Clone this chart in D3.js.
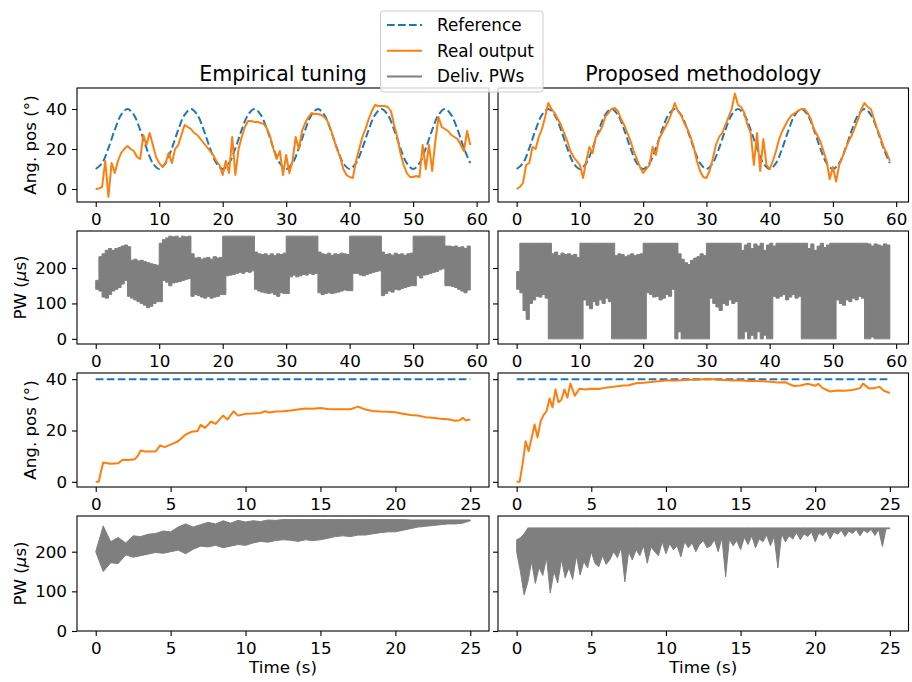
<!DOCTYPE html>
<html>
<head>
<meta charset="utf-8">
<script src="https://cdn.jsdelivr.net/npm/d3@7"></script>
<style>
  body { margin: 0; background: #fff; }
  svg { font-family: "DejaVu Sans", sans-serif; }
</style>
</head>
<body>
<svg id="chart" width="912" height="682"></svg>
<script>
// ---- values ----

// sine tracking test, 0..59 s
const sineRefStep = 1;
const sineRef = [
  10, 12.9, 20.4, 29.6, 37.1, 40, 37.1, 29.6, 20.4, 12.9,
  10, 12.9, 20.4, 29.6, 37.1, 40, 37.1, 29.6, 20.4, 12.9,
  10, 12.9, 20.4, 29.6, 37.1, 40, 37.1, 29.6, 20.4, 12.9,
  10, 12.9, 20.4, 29.6, 37.1, 40, 37.1, 29.6, 20.4, 12.9,
  10, 12.9, 20.4, 29.6, 37.1, 40, 37.1, 29.6, 20.4, 12.9,
  10, 12.9, 20.4, 29.6, 37.1, 40, 37.1, 29.6, 20.4, 12.9
];

const trackStep = 0.5;
const empTrack = [
  0, 0.3, 1, 14, -3.9, 13, 8, 14, 18, 20,
  21.5, 20, 19, 16, 15, 27, 22, 28, 22, 16,
  13, 11, 13, 18, 13, 20, 22, 27, 32, 31,
  30, 28, 27, 25, 23, 21, 19, 17, 14, 12,
  7, 14, 8, 26, 7, 20, 26, 31, 34, 34,
  33.5, 33.5, 33, 32.5, 30, 26, 20, 15, 19, 7,
  17, 8, 14, 26, 20, 29, 33, 36, 38, 37.5,
  37.5, 37, 36, 34, 30, 25, 20, 16, 10, 7,
  6, 5.5, 14, 20, 26, 30, 35, 39, 42, 41.5,
  41.5, 41.5, 41, 39, 32, 26, 18, 12, 8, 6,
  6, 6.5, 6, 22, 10, 22, 9, 24, 36, 31,
  30, 29, 27, 26, 25, 22, 19, 29, 22
];
const propTrack = [
  0, 1, 3, 12, 13, 21, 20, 26, 30, 36,
  43, 40, 38, 35, 32, 28, 24, 19, 16, 14,
  12, 5.5, 14, 21, 18, 26, 28, 31, 36, 38,
  40, 40.5, 39, 35, 32, 28, 24, 19, 15, 11,
  8, 10, 12, 21, 17, 25, 28, 31, 34, 38,
  43, 39, 37, 33, 30, 26, 21, 14, 9, 6,
  5.5, 9, 15, 22, 26, 28, 32, 36, 40, 47.7,
  42, 41, 38, 32, 28, 12, 28, 9, 25, 12,
  10, 14, 19, 25, 29, 32, 35, 37, 38, 39,
  40, 40, 38, 35, 30, 27, 24, 19, 14, 5,
  11, 3.7, 12, 16, 20, 24, 27, 31, 35, 40,
  43, 41, 40, 35, 30, 26, 21, 18, 14
];

// delivered pulse widths: upper / lower envelope of the dense trace
const empTrackPwHi = [
  165, 232, 240, 250, 255, 250, 255, 258, 262, 265,
  260, 222, 225, 220, 222, 218, 215, 212, 210, 208,
  270, 280, 285, 290, 288, 290, 285, 290, 288, 290,
  240, 228, 230, 225, 228, 230, 225, 232, 228, 230,
  290, 290, 290, 290, 290, 290, 290, 290, 290, 290,
  245, 240, 238, 240, 236, 240, 235, 240, 238, 242,
  290, 290, 290, 290, 290, 290, 290, 290, 290, 290,
  245, 240, 238, 242, 236, 240, 238, 242, 240, 238,
  290, 290, 290, 290, 290, 290, 290, 290, 290, 290,
  245, 238, 240, 236, 242, 238, 240, 236, 240, 242,
  290, 290, 290, 290, 290, 290, 290, 290, 290, 290,
  262, 262, 260, 262, 258, 260, 255, 262, 240
];
const empTrackPwLo = [
  140, 135, 118, 115, 125, 135, 140, 145, 155, 165,
  120, 115, 110, 105, 100, 95, 88, 92, 100, 105,
  105, 165, 160, 150, 158, 160, 162, 165, 168, 170,
  120, 125, 122, 118, 115, 120, 115, 118, 120, 125,
  125, 178, 180, 182, 185, 188, 185, 190, 188, 192,
  140, 135, 132, 130, 128, 130, 125, 120, 130, 128,
  128, 175, 180, 175, 178, 182, 180, 185, 182, 185,
  130, 125, 128, 130, 128, 130, 132, 135, 138, 136,
  136, 185, 185, 180, 178, 182, 185, 188, 190, 192,
  122, 128, 135, 132, 140, 138, 142, 145, 148, 150,
  150, 178, 172, 180, 182, 185, 188, 190, 195, 198,
  150, 150, 148, 145, 140, 135, 130, 138, 160
];
const propTrackPwHi = [
  190, 270, 270, 270, 270, 270, 270, 270, 270, 270,
  270, 240, 245, 235, 242, 238, 240, 236, 238, 230,
  270, 270, 270, 270, 270, 270, 270, 270, 270, 270,
  270, 235, 240, 238, 232, 236, 240, 235, 238, 240,
  270, 270, 270, 270, 270, 270, 270, 270, 270, 270,
  270, 240, 225, 215, 210, 222, 228, 232, 240, 235,
  270, 270, 270, 270, 270, 270, 270, 270, 270, 270,
  270, 250, 265, 270, 255, 268, 262, 270, 250, 265,
  270, 262, 270, 270, 270, 270, 270, 270, 270, 270,
  270, 270, 255, 268, 250, 262, 270, 258, 265, 270,
  270, 270, 270, 270, 270, 270, 270, 270, 270, 270,
  270, 268, 262, 268, 265, 262, 268, 265, 225
];
const propTrackPwLo = [
  140, 130, 80, 55, 100, 110, 120, 118, 125, 115,
  0, 0, 0, 0, 0, 0, 0, 0, 0, 0,
  0, 110, 95, 85, 105, 95, 110, 100, 115, 105,
  0, 0, 0, 0, 0, 0, 0, 0, 0, 0,
  0, 130, 125, 118, 120, 110, 115, 125, 120, 140,
  0, 20, 0, 0, 0, 0, 0, 0, 0, 0,
  0, 115, 100, 90, 80, 100, 95, 110, 100, 105,
  0, 0, 20, 0, 10, 0, 20, 0, 10, 0,
  0, 120, 115, 120, 125, 110, 118, 125, 115, 120,
  0, 0, 0, 0, 0, 0, 0, 0, 0, 0,
  0, 110, 100, 95, 110, 105, 115, 110, 120, 115,
  0, 0, 5, 0, 0, 0, 0, 0, 5
];

// step test, 0..25 s
const stepRefTime = [0, 25];
const stepRef = [40, 40];

const empStepTime = [
  0, 0.2, 0.35, 0.5, 0.7, 1, 1.5, 1.8, 2.2, 2.6, 2.8, 3, 3.3, 4, 4.3, 4.6, 5,
  5.5, 6, 6.4, 6.8, 7, 7.3, 7.7, 8, 8.5, 8.8, 9.2, 9.5, 10, 10.5, 11, 11.3,
  11.6, 12, 12.5, 13, 13.5, 14, 14.5, 15, 15.5, 16, 16.5, 17, 17.5, 18, 18.5,
  19, 19.5, 20, 20.5, 21, 21.5, 22, 22.5, 23, 23.5, 24, 24.3, 24.5, 24.7, 25
];
const empStepPos = [
  0, 0, 4, 7.5, 7.3, 7, 7.2, 8.6, 8.5, 8.8, 10, 12.2, 11.8, 11.8, 14.2, 13.5, 14.5,
  15.8, 18.4, 19.5, 19.8, 22.2, 21, 23.5, 22.6, 25.8, 24.3, 27.5, 25.8, 26.5, 26.6, 26.8, 27.5,
  27, 27.4, 27.5, 27.8, 28.2, 28.6, 28.5, 28.8, 28.4, 28.3, 28.3, 28.3, 29.3, 28.2, 27.6,
  27.4, 27.3, 27.1, 26.5, 26, 25.8, 25.2, 25, 24.6, 24.4, 23.8, 24, 24.9, 24, 24.3
];
const propStepTime = [
  0, 0.2, 0.4, 0.6, 0.8, 1, 1.2, 1.4, 1.6, 1.8, 2, 2.2, 2.4, 2.6, 2.8, 3, 3.2,
  3.4, 3.6, 3.9, 4.2, 4.6, 5, 5.5, 6, 6.5, 7, 7.5, 8, 8.5, 9, 9.5, 10, 10.5,
  11, 11.5, 12, 12.5, 13, 13.5, 14, 14.5, 15, 15.5, 16, 16.5, 17, 17.5, 18,
  18.3, 18.6, 19, 19.5, 20, 20.2, 20.5, 21, 21.5, 22, 22.5, 23, 23.2, 23.6,
  24, 24.3, 24.6, 25
];
const propStepPos = [
  0, 0, 7, 15.8, 12, 17, 22.3, 17.3, 23.5, 26, 27.5, 32.5, 29, 36, 31, 32, 36,
  32.8, 38.3, 33.5, 36.3, 36, 36.3, 36.2, 36.7, 37, 37.4, 37.6, 38.4, 38.6, 38.9, 39.2, 39.5, 39.5,
  39.6, 39.8, 39.8, 40, 40.1, 39.8, 39.7, 39.5, 39.6, 39.3, 39.3, 39.2, 39, 38.7, 38.8,
  38, 37.3, 37.5, 38.2, 37.4, 38.2, 36.5, 35.2, 35.6, 35.5, 35.8, 36.5, 38.3, 36.4,
  36.6, 37, 35.5, 34.6
];

const empStepPwStep = 0.5;
const empStepPwHi = [
  200, 265, 225, 236, 222, 240, 238, 244, 246, 252,
  250, 262, 270, 262, 268, 274, 270, 278, 272, 279,
  275, 278, 276, 280, 279, 281, 281, 281, 281, 281,
  281, 281, 281, 281, 281, 281, 281, 281, 281, 281,
  281, 281, 280, 280, 280, 280, 280, 280, 280, 280,
  280
];
const empStepPwLo = [
  200, 150, 172, 170, 192, 186, 190, 194, 198, 196,
  200, 204, 195, 206, 214, 212, 216, 210, 214, 218,
  216, 222, 226, 224, 228, 230, 229, 226, 230, 228,
  230, 234, 238, 240, 238, 242, 242, 245, 248, 250,
  250, 254, 258, 262, 264, 266, 268, 270, 270, 272,
  278
];
const propStepPwStep = 0.25;
const propStepPwHi = [
  230, 235, 245, 260, 260, 260, 260, 260, 260, 260,
  260, 260, 260, 260, 260, 260, 260, 260, 260, 260,
  260, 260, 260, 260, 260, 260, 260, 260, 260, 260,
  260, 260, 260, 260, 260, 260, 260, 260, 260, 260,
  260, 260, 260, 260, 260, 260, 260, 260, 260, 260,
  260, 260, 260, 260, 260, 260, 260, 260, 260, 260,
  260, 260, 260, 260, 260, 260, 260, 260, 260, 260,
  260, 260, 260, 260, 260, 260, 260, 260, 260, 260,
  260, 260, 260, 260, 260, 260, 260, 260, 260, 260,
  260, 260, 260, 260, 260, 260, 260, 260, 260, 260,
  260
];
const propStepPwLo = [
  200, 150, 91, 124, 175, 120, 160, 140, 185, 96,
  150, 121, 180, 134, 160, 130, 190, 141, 175, 159,
  200, 170, 162, 190, 168, 180, 200, 185, 210, 124,
  200, 179, 205, 190, 215, 171, 212, 200, 190, 225,
  195, 220, 205, 215, 187, 225, 210, 222, 200, 218,
  228, 210, 215, 230, 200, 235, 137, 232, 215, 228,
  205, 236, 218, 240, 210, 232, 225, 242, 215, 238,
  159, 245, 225, 240, 232, 248, 230, 245, 238, 250,
  225, 248, 240, 252, 232, 250, 244, 254, 238, 252,
  246, 256, 240, 254, 248, 256, 241, 256, 213, 258,
  258
];

// ticks and labels
const trackTicks = [0, 10, 20, 30, 40, 50, 60];
const stepTicks = [0, 5, 10, 15, 20, 25];
const posTicks = [0, 20, 40];
const pwTicks = [0, 100, 200];
const columnTitles = ['Empirical tuning', 'Proposed methodology'];
const legendLabels = ['Reference', 'Real output', 'Deliv. PWs'];

// ---- layout ----
const BLUE = '#1f77b4', ORANGE = '#ff7f0e', GRAY = '#7f7f7f';
const TICK_FONT = 16.7;
const cols = [{ x0: 77, x1: 489 }, { x0: 498, x1: 908.5 }];
const rows = [
  { y0: 88, y1: 202, xDom: [-2.95, 61.95], yDom: [-6.5, 50.5], xTicks: trackTicks, yTicks: posTicks, label: 'pos' },
  { y0: 231, y1: 344, xDom: [-2.95, 61.95], yDom: [-14.5, 304.5], xTicks: trackTicks, yTicks: pwTicks, label: 'pw' },
  { y0: 373, y1: 487, xDom: [-1.25, 26.25], yDom: [-2.02, 42.4], xTicks: stepTicks, yTicks: posTicks, label: 'pos' },
  { y0: 516, y1: 631, xDom: [-1.25, 26.25], yDom: [0, 290], xTicks: stepTicks, yTicks: pwTicks, label: 'pw' }
];

const uniform = (values, step) => values.map((v, i) => [i * step, v]);
const paired = (times, values) => times.map((t, i) => [t, values[i]]);
const band = (hi, lo, step) => hi.map((h, i) => ({ t: i * step, hi: h, lo: lo[i] }));

// what goes in each panel [row][col]
const panels = [
  [
    { ref: uniform(sineRef, sineRefStep), out: uniform(empTrack, trackStep) },
    { ref: uniform(sineRef, sineRefStep), out: uniform(propTrack, trackStep) }
  ],
  [
    { pw: band(empTrackPwHi, empTrackPwLo, trackStep), pwCurve: d3.curveStepAfter },
    { pw: band(propTrackPwHi, propTrackPwLo, trackStep), pwCurve: d3.curveStepAfter }
  ],
  [
    { ref: paired(stepRefTime, stepRef), out: paired(empStepTime, empStepPos) },
    { ref: paired(stepRefTime, stepRef), out: paired(propStepTime, propStepPos) }
  ],
  [
    { pw: band(empStepPwHi, empStepPwLo, empStepPwStep), pwCurve: d3.curveLinear },
    { pw: band(propStepPwHi, propStepPwLo, propStepPwStep), pwCurve: d3.curveLinear }
  ]
];

const svg = d3.select('#chart');
const defs = svg.append('defs');

function styleAxis(g) {
  g.select('.domain').remove();
  g.selectAll('.tick line').attr('stroke', '#000').attr('stroke-width', 1.1);
  g.selectAll('.tick text')
    .attr('fill', '#000')
    .attr('font-size', TICK_FONT)
    .attr('font-family', '"DejaVu Sans", sans-serif');
}

rows.forEach((row, r) => {
  cols.forEach((col, c) => {
    const x = d3.scaleLinear().domain(row.xDom).range([col.x0, col.x1]);
    const y = d3.scaleLinear().domain(row.yDom).range([row.y1, row.y0]);
    const spec = panels[r][c];
    const clipId = `clip-${r}-${c}`;

    defs.append('clipPath').attr('id', clipId)
      .append('rect')
      .attr('x', col.x0).attr('y', row.y0)
      .attr('width', col.x1 - col.x0).attr('height', row.y1 - row.y0);

    const plot = svg.append('g').attr('clip-path', `url(#${clipId})`);

    if (spec.pw) {
      const area = d3.area()
        .x(d => x(d.t))
        .y0(d => y(d.lo))
        .y1(d => y(d.hi))
        .curve(spec.pwCurve);
      plot.append('path')
        .datum(spec.pw)
        .attr('d', area)
        .attr('fill', GRAY)
        .attr('stroke', GRAY)
        .attr('stroke-width', 1)
        .attr('stroke-linejoin', 'round');
    }

    if (spec.ref) {
      const refLine = d3.line()
        .x(d => x(d[0]))
        .y(d => y(d[1]))
        .curve(d3.curveCatmullRom);
      plot.append('path')
        .datum(spec.ref)
        .attr('d', refLine)
        .attr('fill', 'none')
        .attr('stroke', BLUE)
        .attr('stroke-width', 2)
        .attr('stroke-dasharray', '7.7,3.3');
    }

    if (spec.out) {
      const outLine = d3.line()
        .x(d => x(d[0]))
        .y(d => y(d[1]));
      plot.append('path')
        .datum(spec.out)
        .attr('d', outLine)
        .attr('fill', 'none')
        .attr('stroke', ORANGE)
        .attr('stroke-width', 2)
        .attr('stroke-linejoin', 'round');
    }

    // axes
    svg.append('g')
      .attr('transform', `translate(0,${row.y1})`)
      .call(d3.axisBottom(x).tickValues(row.xTicks).tickSize(5).tickPadding(6))
      .call(styleAxis);

    const yAxis = d3.axisLeft(y).tickValues(row.yTicks).tickSize(5).tickPadding(5);
    if (c === 1) yAxis.tickFormat('');
    svg.append('g')
      .attr('transform', `translate(${col.x0},0)`)
      .call(yAxis)
      .call(styleAxis);

    // spines
    svg.append('rect')
      .attr('x', col.x0).attr('y', row.y0)
      .attr('width', col.x1 - col.x0).attr('height', row.y1 - row.y0)
      .attr('fill', 'none')
      .attr('stroke', '#000')
      .attr('stroke-width', 1.1);
  });

  // y label on the left column
  const midY = (row.y0 + row.y1) / 2;
  const lab = svg.append('text')
    .attr('transform', `translate(${row.label === 'pos' ? 35.5 : 26},${midY}) rotate(-90)`)
    .attr('text-anchor', 'middle')
    .attr('font-size', TICK_FONT)
    .attr('fill', '#000');
  if (row.label === 'pos') {
    lab.text('Ang. pos (°)');
  } else {
    lab.append('tspan').text('PW (');
    lab.append('tspan').attr('font-style', 'italic').text('μ');
    lab.append('tspan').text('s)');
  }
});

// column titles and x labels
cols.forEach((col, c) => {
  const cx = (col.x0 + col.x1) / 2;
  svg.append('text')
    .attr('x', cx).attr('y', 81)
    .attr('text-anchor', 'middle')
    .attr('font-size', 20.5)
    .text(columnTitles[c]);
  svg.append('text')
    .attr('x', cx).attr('y', 672.5)
    .attr('text-anchor', 'middle')
    .attr('font-size', TICK_FONT)
    .text('Time (s)');
});

// legend
const legend = svg.append('g');
legend.append('rect')
  .attr('x', 380.5).attr('y', 11)
  .attr('width', 162.5).attr('height', 81)
  .attr('rx', 3).attr('ry', 3)
  .attr('fill', '#fff').attr('fill-opacity', 0.8)
  .attr('stroke', '#cccccc').attr('stroke-width', 1);

const legendStyles = [
  { color: BLUE, dash: '7.7,3.3' },
  { color: ORANGE, dash: null },
  { color: GRAY, dash: null }
];
legendLabels.forEach((name, i) => {
  const cy = 25 + i * 25.7;
  legend.append('line')
    .attr('x1', 387).attr('x2', 422)
    .attr('y1', cy).attr('y2', cy)
    .attr('stroke', legendStyles[i].color)
    .attr('stroke-width', 2)
    .attr('stroke-dasharray', legendStyles[i].dash);
  legend.append('text')
    .attr('x', 437).attr('y', cy)
    .attr('dy', '0.36em')
    .attr('font-size', 16.8)
    .text(name);
});
</script>
</body>
</html>
